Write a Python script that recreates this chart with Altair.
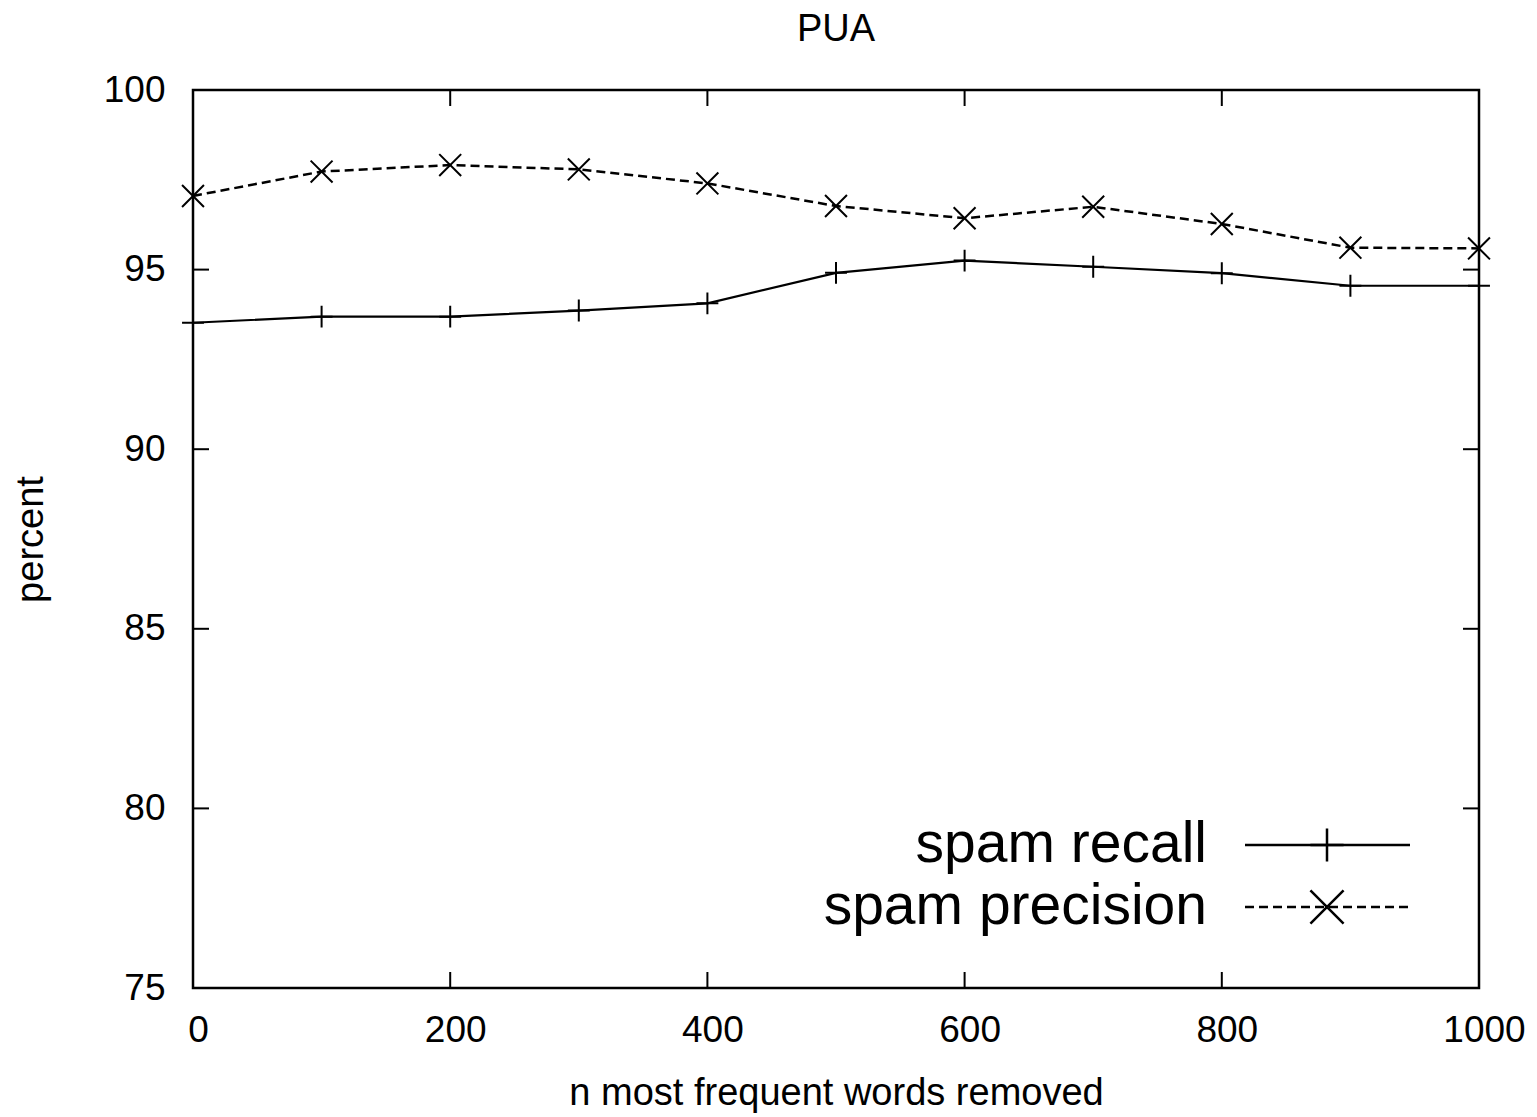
import altair as alt
import pandas as pd

# Data
n_removed = [0, 100, 200, 300, 400, 500, 600, 700, 800, 900, 1000]
spam_recall = [93.52, 93.69, 93.69, 93.86, 94.06, 94.91, 95.25, 95.08, 94.90, 94.55, 94.55]
spam_precision = [97.05, 97.73, 97.91, 97.79, 97.40, 96.77, 96.43, 96.75, 96.27, 95.61, 95.59]
x_ticks = [0, 200, 400, 600, 800, 1000]
y_ticks = [75, 80, 85, 90, 95, 100]
legend_labels = ["spam recall", "spam precision"]

W, H = 1286, 898
FONT = "Liberation Sans"
TL = 16  # tick length
MS = 480  # marker size
LMS = 1100  # legend marker size

df = pd.DataFrame({"n": n_removed, "recall": spam_recall, "precision": spam_precision})
xs = alt.Scale(domain=[0, 1000], nice=False, zero=False)
ys = alt.Scale(domain=[75, 100], nice=False, zero=False)

x_axis = alt.Axis(values=x_ticks, ticks=False, domain=False, grid=False, format="d",
                  labelFontSize=37, labelFont=FONT, labelColor="black", labelPadding=24,
                  labelFlush=False, labelOffset=5,
                  title="n most frequent words removed", titleFont=FONT, titleFontSize=38,
                  titleFontWeight="normal", titleColor="black",
                  titleBaseline="middle", titleX=W / 2, titleY=105)
y_axis = alt.Axis(values=y_ticks, ticks=False, domain=False, grid=False,
                  labelFontSize=37, labelFont=FONT, labelColor="black", labelPadding=28,
                  labelFlush=False,
                  title="percent", titleFont=FONT, titleFontSize=38,
                  titleFontWeight="normal", titleColor="black",
                  titleBaseline="middle", titleX=-162, titleY=H / 2, titleAngle=-90)

base = alt.Chart(df)
plus = "M-1,0L1,0M0,-1L0,1"
cross = "M-1,-1L1,1M-1,1L1,-1"

recall_line = base.mark_line(color="black", strokeWidth=2.2).encode(
    x=alt.X("n:Q", scale=xs, axis=x_axis), y=alt.Y("recall:Q", scale=ys, axis=y_axis))
recall_pts = base.mark_point(shape=plus, size=MS, filled=False, color="black",
                             strokeWidth=2, opacity=1).encode(
    x=alt.X("n:Q", scale=xs), y=alt.Y("recall:Q", scale=ys))
prec_line = base.mark_line(color="black", strokeWidth=2.5, strokeDash=[9, 5]).encode(
    x=alt.X("n:Q", scale=xs), y=alt.Y("precision:Q", scale=ys))
prec_pts = base.mark_point(shape=cross, size=MS, filled=False, color="black",
                           strokeWidth=2, opacity=1).encode(
    x=alt.X("n:Q", scale=xs), y=alt.Y("precision:Q", scale=ys))

ydf = pd.DataFrame({"v": y_ticks})
xdf = pd.DataFrame({"v": x_ticks})
tick_layers = [
    alt.Chart(ydf).mark_rule(color="black", strokeWidth=2).encode(
        y=alt.Y("v:Q", scale=ys), x=alt.value(0), x2=alt.value(TL)),
    alt.Chart(ydf).mark_rule(color="black", strokeWidth=2).encode(
        y=alt.Y("v:Q", scale=ys), x=alt.value(W - TL), x2=alt.value(W)),
    alt.Chart(xdf).mark_rule(color="black", strokeWidth=2).encode(
        x=alt.X("v:Q", scale=xs), y=alt.value(H - TL), y2=alt.value(H)),
    alt.Chart(xdf).mark_rule(color="black", strokeWidth=2).encode(
        x=alt.X("v:Q", scale=xs), y=alt.value(0), y2=alt.value(TL)),
]

# Legend (drawn inside the plot, lower right)
LX_TEXT, LX1, LX2, LXM = 1014, 1052, 1217, 1134
LY1, LY2 = 755, 817
leg_df1 = pd.DataFrame({"t": [legend_labels[0]]})
leg_df2 = pd.DataFrame({"t": [legend_labels[1]]})
legend_layers = [
    alt.Chart(leg_df1).mark_text(align="right", baseline="middle", fontSize=57, font=FONT,
                                 color="black").encode(text="t:N", x=alt.value(LX_TEXT), y=alt.value(LY1)),
    alt.Chart(leg_df2).mark_text(align="right", baseline="middle", fontSize=57, font=FONT,
                                 color="black").encode(text="t:N", x=alt.value(LX_TEXT), y=alt.value(LY2)),
    alt.Chart(leg_df1).mark_rule(color="black", strokeWidth=2.5).encode(
        x=alt.value(LX1), x2=alt.value(LX2), y=alt.value(LY1)),
    alt.Chart(leg_df2).mark_rule(color="black", strokeWidth=2.5, strokeDash=[9, 5]).encode(
        x=alt.value(LX1), x2=alt.value(LX2), y=alt.value(LY2)),
    alt.Chart(leg_df1).mark_point(shape=plus, size=LMS, filled=False, color="black",
                                  strokeWidth=2.5, opacity=1).encode(x=alt.value(LXM), y=alt.value(LY1)),
    alt.Chart(leg_df2).mark_point(shape=cross, size=LMS, filled=False, color="black",
                                  strokeWidth=2.5, opacity=1).encode(x=alt.value(LXM), y=alt.value(LY2)),
]

chart = alt.layer(recall_line, recall_pts, prec_line, prec_pts, *tick_layers, *legend_layers).properties(
    width=W, height=H,
    title=alt.TitleParams("PUA", fontSize=38, font=FONT, fontWeight="normal", color="black",
                          anchor="middle", offset=22),
    autosize=alt.AutoSizeParams(type="none"),
    padding={"left": 185, "top": 82, "right": 50, "bottom": 127},
).configure(
    background="white",
    view=alt.ViewConfig(stroke="black", strokeWidth=2.5),
)

chart.save("out.html", embed_options={"renderer": "svg", "actions": False})
